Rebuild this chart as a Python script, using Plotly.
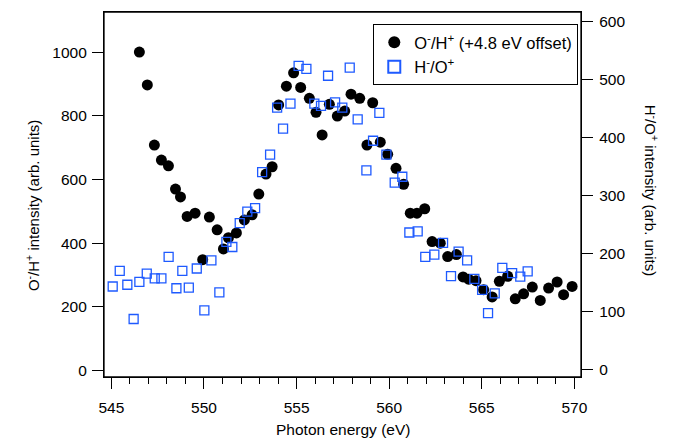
import plotly.graph_objects as go

# O-/H+ (left axis, +4.8 eV offset)
oh_energy = [546.51, 546.94, 547.32, 547.70, 548.08, 548.46, 548.73, 549.09, 549.52, 549.93,
             550.29, 550.71, 551.05, 551.32, 551.75, 552.18, 552.60, 552.96, 553.35, 553.68,
             554.03, 554.45, 554.84, 555.22, 555.69, 556.05, 556.38, 556.77, 557.20, 557.60,
             557.94, 558.41, 558.80, 559.11, 559.52, 559.92, 560.37, 560.78, 561.14, 561.50,
             561.92, 562.32, 562.76, 563.16, 563.63, 563.99, 564.29, 564.69, 565.10, 565.56,
             565.95, 566.40, 566.81, 567.26, 567.73, 568.16, 568.61, 569.07, 569.42, 569.88]
oh_intensity = [1000, 897, 708, 661, 643, 570, 545, 484, 494, 348,
                482, 442, 382, 417, 432, 473, 489, 554, 617, 640,
                834, 893, 935, 889, 855, 811, 740, 836, 799, 815,
                868, 855, 708, 841, 717, 679, 635, 585, 494, 494,
                508, 405, 400, 358, 364, 294, 287, 282, 254, 231,
                280, 296, 225, 241, 262, 220, 259, 278, 238, 264]

# H-/O+ (right axis)
ho_energy = [545.07, 545.45, 545.86, 546.20, 546.51, 546.91, 547.34, 547.70, 548.09, 548.51,
             548.83, 549.18, 549.61, 550.02, 550.40, 550.83, 551.21, 551.53, 551.93, 552.34,
             552.76, 553.14, 553.57, 553.95, 554.27, 554.67, 555.11, 555.53, 555.96, 556.32,
             556.70, 557.08, 557.47, 557.87, 558.30, 558.77, 559.13, 559.47, 559.85, 560.30,
             560.71, 561.09, 561.54, 561.95, 562.44, 562.91, 563.34, 563.75, 564.21, 564.60,
             565.02, 565.34, 565.70, 566.11, 566.64, 567.08, 567.48]
ho_intensity = [143, 170, 146, 87, 151, 165, 157, 157, 194, 140,
                170, 141, 174, 102, 188, 133, 220, 211, 252, 272,
                278, 340, 370, 451, 415, 458, 523, 518, 458, 454,
                506, 460, 451, 520, 431, 343, 394, 442, 370, 322,
                332, 236, 238, 194, 198, 218, 161, 203, 188, 156,
                137, 97, 131, 175, 166, 160, 169]

x_ticks = [545, 550, 555, 560, 565, 570]
left_ticks = [0, 200, 400, 600, 800, 1000]
right_ticks = [0, 100, 200, 300, 400, 500, 600]

FONT = "Liberation Sans, Arial, sans-serif"

fig = go.Figure()
fig.add_trace(go.Scatter(
    x=oh_energy, y=oh_intensity, mode="markers",
    name="O<sup>-</sup>/H<sup>+</sup> (+4.8 eV offset)",
    marker=dict(symbol="circle", size=11, color="black"),
    yaxis="y"))
fig.add_trace(go.Scatter(
    x=ho_energy, y=ho_intensity, mode="markers",
    name="H<sup>-</sup>/O<sup>+</sup>",
    marker=dict(symbol="square-open", size=9, color="rgb(30,90,255)",
                line=dict(width=1.3, color="rgb(30,90,255)")),
    yaxis="y2"))

axis_common = dict(showline=True, linecolor="black", linewidth=1.2, ticks="outside",
                   tickcolor="black", tickwidth=1.2, showgrid=False, zeroline=False,
                   tickfont=dict(family=FONT, size=15.5, color="black"))

fig.update_layout(
    width=675, height=440,
    margin=dict(l=104, r=94, t=11.5, b=62.5),
    paper_bgcolor="white", plot_bgcolor="white",
    font=dict(family=FONT, size=15, color="black"),
    showlegend=True,
    legend=dict(x=0.9943, y=0.967, xanchor="right", yanchor="top",
                bordercolor="black", borderwidth=1, bgcolor="white",
                font=dict(family=FONT, size=16.5, color="black"),
                itemsizing="constant"),
    xaxis=dict(range=[544.6, 570.36], tickvals=x_ticks, ticklen=11, mirror=True,
               ticklabelstandoff=5,
               minor=dict(dtick=1, ticklen=6, ticks="outside", tickcolor="black", tickwidth=1.2),
               **axis_common),
    yaxis=dict(range=[-20.4, 1126], tickvals=left_ticks, ticklen=11, ticklabelstandoff=2,
               **axis_common),
    yaxis2=dict(range=[-12.9, 615.8], tickvals=right_ticks, ticklen=11, overlaying="y",
                side="right", ticklabelstandoff=3, **axis_common),
    shapes=[dict(type="rect", xref="paper", yref="paper", x0=0, x1=1, y0=0, y1=1,
                 line=dict(color="black", width=1.3), layer="above")],
    annotations=[
        dict(text="Photon energy (eV)", xref="paper", yref="paper", x=0.5, y=-0.143,
             xanchor="center", yanchor="middle", showarrow=False,
             font=dict(family=FONT, size=15.5, color="black")),
        dict(text="O<sup>-</sup>/H<sup>+</sup> intensity (arb. units)", xref="paper", yref="paper",
             x=-0.151, y=0.471, xanchor="center", yanchor="middle", textangle=-90,
             showarrow=False, font=dict(family=FONT, size=15, color="black")),
        dict(text="H<sup>-</sup>/O<sup>+</sup> intensity (arb. units)", xref="paper", yref="paper",
             x=1.1496, y=0.512, xanchor="center", yanchor="middle", textangle=90,
             showarrow=False, font=dict(family=FONT, size=15, color="black")),
    ],
)

fig.write_html("out.html", config={"displayModeBar": False},
               post_script="document.body.style.margin='0';")
